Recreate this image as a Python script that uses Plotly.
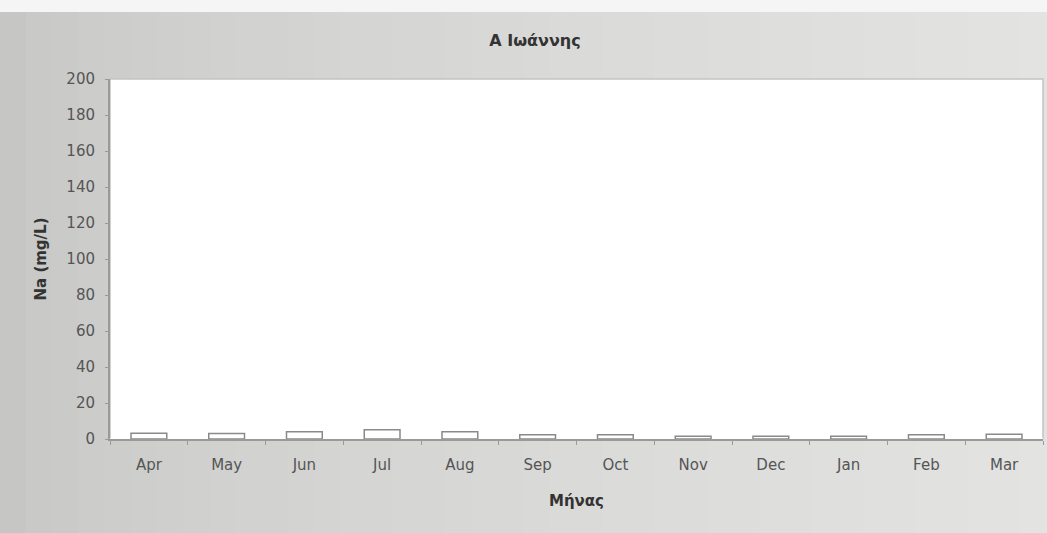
import plotly.graph_objects as go

months = ["Apr", "May", "Jun", "Jul", "Aug", "Sep", "Oct", "Nov", "Dec", "Jan", "Feb", "Mar"]
na_values = [3.2, 3.0, 4.0, 5.2, 4.0, 2.3, 2.3, 1.5, 1.5, 1.5, 2.4, 2.6]
y_ticks = list(range(0, 201, 20))

font = "DejaVu Sans, Verdana, sans-serif"

fig = go.Figure(
    go.Bar(x=months, y=na_values, width=0.46,
           marker=dict(color="white", line=dict(color="#8a8a8a", width=1.5)))
)

# scanned page look: darker grey on the left, lighter towards the right
bands = []
n = 40
for i in range(n):
    v = int(0xc6 + (0xe3 - 0xc6) * (i / (n - 1)) ** 0.6)
    g = "#%02x%02x%02x" % (v, v, v - 2)
    bands.append(dict(type="rect", xref="paper", yref="paper",
                      x0=-0.118 + i * 1.122 / n, x1=-0.118 + (i + 1) * 1.122 / n + 0.001,
                      y0=-0.262, y1=1.186, fillcolor=g, line_width=0, layer="below"))
bands.append(dict(type="rect", xref="paper", yref="paper", x0=-0.12, x1=1.01, y0=1.186, y1=1.22,
                  fillcolor="#f5f5f5", line_width=0, layer="below"))
# white plot area on top of the grey bands, thin light frame
bands.append(dict(type="rect", xref="paper", yref="paper", x0=0, x1=1, y0=0, y1=1,
                  fillcolor="white", line=dict(color="#c4c4c4", width=1.5), layer="below"))

fig.update_layout(
    width=1047, height=533,
    margin=dict(l=110, r=4, t=79, b=94),
    paper_bgcolor="#dadad8",
    plot_bgcolor="white",
    showlegend=False,
    font=dict(family=font, size=15, color="#555555"),
    title=dict(text="<b>A Ιωάννης</b>", x=0.511, xanchor="center", y=0.935,
               font=dict(family=font, size=16, color="#333")),
    shapes=bands,
)

fig.update_xaxes(
    title=dict(text="<b>Μήνας</b>", font=dict(size=15, color="#333"), standoff=22),
    showgrid=False, showline=True, linecolor="#9a9a9a", linewidth=2,
    ticks="outside", tickcolor="#9a9a9a", ticklen=4, tickson="boundaries",
    ticklabelstandoff=11,
    tickfont=dict(size=15, color="#555555"),
)
fig.update_yaxes(
    title=dict(text="<b>Na (mg/L)</b>", font=dict(size=15, color="#333"), standoff=16),
    range=[0, 200], tickvals=y_ticks, showgrid=False,
    showline=True, linecolor="#9a9a9a", linewidth=2,
    ticks="outside", tickcolor="#9a9a9a", ticklen=3,
    ticklabelstandoff=7,
    tickfont=dict(size=15, color="#555555"),
)

fig.write_html("out.html", config={"displayModeBar": False},
               post_script="document.body.style.margin='0';document.body.style.overflow='hidden';")
